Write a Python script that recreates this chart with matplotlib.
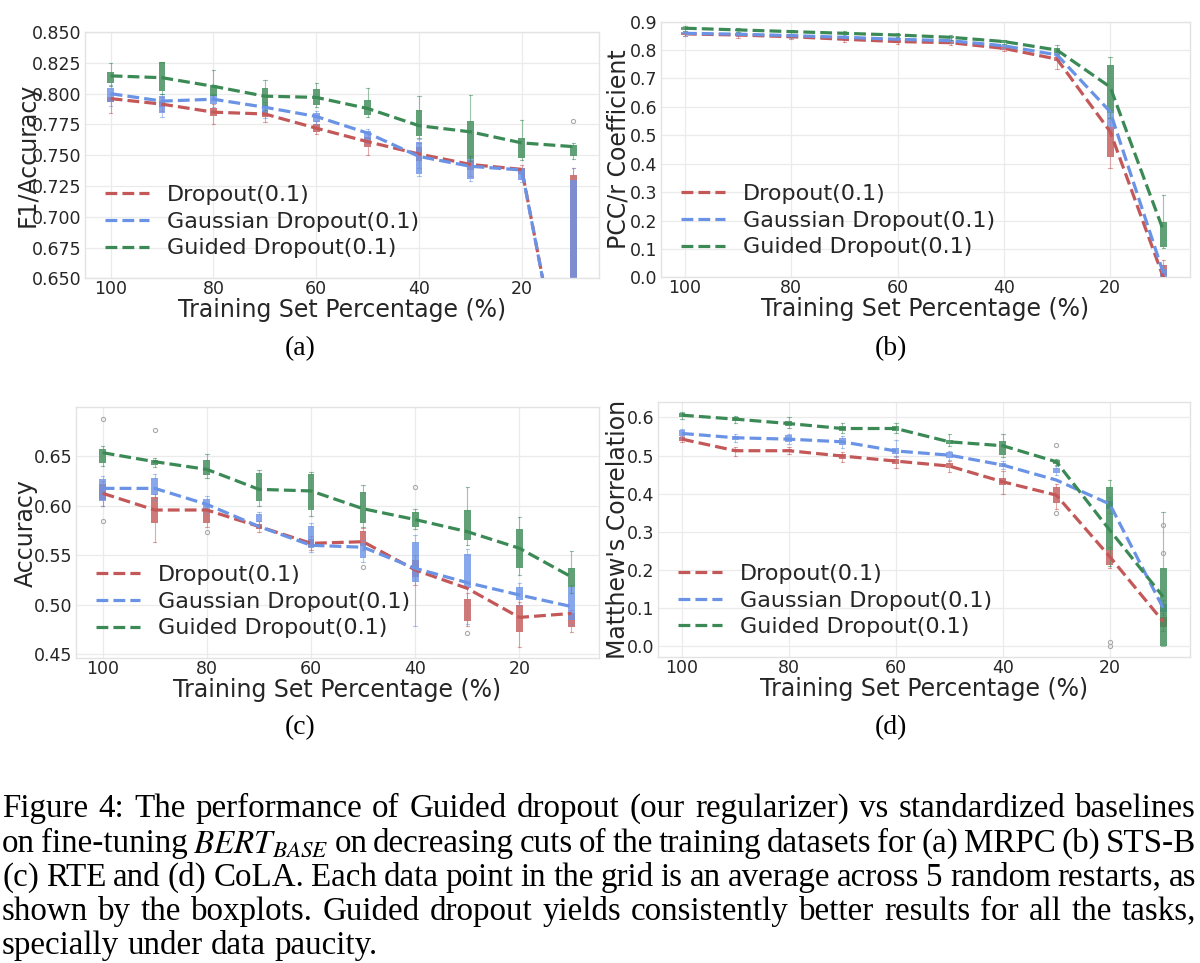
import matplotlib
matplotlib.use("Agg")
import matplotlib.pyplot as plt

plt.rcParams['font.family'] = ['DejaVu Sans']
plt.rcParams['mathtext.fontset'] = 'stix'

pct = [100, 90, 80, 70, 60, 50, 40, 30, 20, 10]
series_names = ["Dropout(0.1)", "Gaussian Dropout(0.1)", "Guided Dropout(0.1)"]
series_colors = ["#c45858", "#6a93e6", "#3b8a55"]

# (a) MRPC: mean, box (q1, q3), whiskers (lo, hi)
a_drop_mean = [0.796, 0.7915, 0.785, 0.7835, 0.772, 0.761, 0.751, 0.7425, 0.7385, 0.52]
a_drop_q1 = [0.7935, 0.789, 0.7815, 0.781, 0.769, 0.757, 0.745, 0.738, 0.735, 0.30]
a_drop_q3 = [0.7975, 0.794, 0.788, 0.786, 0.775, 0.765, 0.757, 0.746, 0.740, 0.734]
a_drop_lo = [0.784, 0.786, 0.775, 0.777, 0.767, 0.750, 0.740, 0.733, 0.731, 0.20]
a_drop_hi = [0.800, 0.797, 0.792, 0.790, 0.778, 0.768, 0.760, 0.749, 0.742, 0.740]
a_gauss_mean = [0.800, 0.794, 0.7955, 0.789, 0.7815, 0.768, 0.749, 0.741, 0.738, 0.52]
a_gauss_q1 = [0.793, 0.784, 0.792, 0.784, 0.777, 0.762, 0.735, 0.731, 0.730, 0.30]
a_gauss_q3 = [0.805, 0.798, 0.799, 0.791, 0.784, 0.770, 0.761, 0.747, 0.739, 0.730]
a_gauss_lo = [0.790, 0.781, 0.789, 0.780, 0.775, 0.760, 0.733, 0.729, 0.728, 0.20]
a_gauss_hi = [0.807, 0.800, 0.800, 0.793, 0.786, 0.771, 0.763, 0.749, 0.740, 0.740]
a_guided_mean = [0.8145, 0.813, 0.806, 0.798, 0.797, 0.788, 0.774, 0.769, 0.760, 0.757]
a_guided_q1 = [0.8085, 0.802, 0.798, 0.789, 0.791, 0.783, 0.766, 0.747, 0.748, 0.749]
a_guided_q3 = [0.818, 0.826, 0.807, 0.805, 0.804, 0.795, 0.787, 0.778, 0.764, 0.758]
a_guided_lo = [0.806, 0.800, 0.796, 0.787, 0.789, 0.781, 0.764, 0.745, 0.746, 0.747]
a_guided_hi = [0.825, 0.826, 0.819, 0.811, 0.809, 0.805, 0.798, 0.799, 0.779, 0.760]
a_guided_out = [(10, 0.778)]

# (b) STS-B
b_drop_mean = [0.857, 0.853, 0.847, 0.838, 0.830, 0.826, 0.806, 0.768, 0.513, 0.0]
b_drop_q1 = [0.853, 0.849, 0.843, 0.834, 0.826, 0.822, 0.800, 0.760, 0.425, -0.01]
b_drop_q3 = [0.860, 0.856, 0.850, 0.842, 0.834, 0.830, 0.810, 0.775, 0.530, 0.045]
b_drop_lo = [0.848, 0.843, 0.838, 0.830, 0.820, 0.818, 0.795, 0.735, 0.384, -0.02]
b_drop_hi = [0.863, 0.860, 0.853, 0.845, 0.838, 0.834, 0.814, 0.780, 0.560, 0.060]
b_gauss_mean = [0.859, 0.856, 0.851, 0.845, 0.838, 0.833, 0.815, 0.783, 0.583, 0.015]
b_gauss_q1 = [0.855, 0.852, 0.847, 0.841, 0.834, 0.829, 0.811, 0.778, 0.530, 0.0]
b_gauss_q3 = [0.862, 0.859, 0.855, 0.849, 0.842, 0.837, 0.819, 0.788, 0.577, 0.030]
b_gauss_lo = [0.851, 0.848, 0.843, 0.837, 0.830, 0.825, 0.806, 0.772, 0.520, -0.01]
b_gauss_hi = [0.866, 0.863, 0.858, 0.852, 0.846, 0.841, 0.823, 0.792, 0.590, 0.040]
b_guided_mean = [0.877, 0.871, 0.865, 0.859, 0.853, 0.845, 0.830, 0.800, 0.670, 0.165]
b_guided_q1 = [0.872, 0.867, 0.861, 0.855, 0.849, 0.841, 0.826, 0.790, 0.577, 0.108]
b_guided_q3 = [0.880, 0.875, 0.869, 0.863, 0.857, 0.849, 0.834, 0.808, 0.748, 0.196]
b_guided_lo = [0.868, 0.863, 0.857, 0.851, 0.845, 0.837, 0.822, 0.786, 0.560, 0.105]
b_guided_hi = [0.883, 0.878, 0.872, 0.866, 0.860, 0.852, 0.837, 0.818, 0.777, 0.290]

# (c) RTE
c_drop_mean = [0.6126, 0.5957, 0.5957, 0.579, 0.562, 0.5636, 0.535, 0.5164, 0.487, 0.491]
c_drop_q1 = [0.606, 0.583, 0.583, 0.576, 0.558, 0.559, 0.528, 0.4837, 0.4726, 0.477]
c_drop_q3 = [0.622, 0.6085, 0.597, 0.582, 0.566, 0.574, 0.545, 0.506, 0.4996, 0.491]
c_drop_lo = [0.600, 0.5636, 0.578, 0.573, 0.555, 0.555, 0.520, 0.478, 0.4574, 0.472]
c_drop_hi = [0.625, 0.612, 0.600, 0.585, 0.569, 0.577, 0.550, 0.512, 0.503, 0.494]
c_drop_out = [(100, 0.585), (80, 0.573), (50, 0.538), (30, 0.471)]
c_gauss_mean = [0.6176, 0.6176, 0.6014, 0.579, 0.560, 0.558, 0.5367, 0.5222, 0.5097, 0.498]
c_gauss_q1 = [0.605, 0.611, 0.597, 0.584, 0.557, 0.547, 0.5232, 0.517, 0.505, 0.4844]
c_gauss_q3 = [0.6267, 0.628, 0.6065, 0.592, 0.580, 0.562, 0.5636, 0.551, 0.518, 0.518]
c_gauss_lo = [0.600, 0.606, 0.593, 0.581, 0.553, 0.543, 0.478, 0.480, 0.500, 0.480]
c_gauss_hi = [0.630, 0.632, 0.610, 0.594, 0.583, 0.565, 0.570, 0.556, 0.522, 0.520]
c_gauss_out = [(60, 0.498)]
c_guided_mean = [0.6537, 0.6446, 0.6368, 0.6166, 0.615, 0.597, 0.586, 0.5738, 0.557, 0.528]
c_guided_q1 = [0.643, 0.641, 0.631, 0.605, 0.596, 0.583, 0.579, 0.565, 0.537, 0.518]
c_guided_q3 = [0.657, 0.646, 0.646, 0.633, 0.632, 0.6136, 0.594, 0.596, 0.576, 0.537]
c_guided_lo = [0.640, 0.639, 0.628, 0.600, 0.590, 0.578, 0.576, 0.560, 0.530, 0.512]
c_guided_hi = [0.660, 0.648, 0.652, 0.636, 0.634, 0.621, 0.597, 0.619, 0.589, 0.5545]
c_guided_out = [(100, 0.688), (90, 0.677), (40, 0.619)]

# (d) CoLA
d_drop_mean = [0.543, 0.5126, 0.5126, 0.4986, 0.4854, 0.4723, 0.431, 0.396, 0.2344, 0.0638]
d_drop_q1 = [0.538, 0.508, 0.508, 0.492, 0.478, 0.466, 0.422, 0.374, 0.2125, 0.050]
d_drop_q3 = [0.548, 0.518, 0.518, 0.505, 0.492, 0.480, 0.440, 0.418, 0.252, 0.075]
d_drop_lo = [0.535, 0.500, 0.503, 0.482, 0.468, 0.458, 0.400, 0.360, 0.205, 0.040]
d_drop_hi = [0.552, 0.522, 0.522, 0.510, 0.498, 0.485, 0.460, 0.425, 0.260, 0.085]
d_drop_out = [(30, 0.348)]
d_gauss_mean = [0.558, 0.5467, 0.543, 0.536, 0.512, 0.501, 0.475, 0.4356, 0.3726, 0.099]
d_gauss_q1 = [0.550, 0.541, 0.535, 0.527, 0.503, 0.493, 0.470, 0.455, 0.360, 0.090]
d_gauss_q3 = [0.566, 0.551, 0.553, 0.545, 0.521, 0.509, 0.480, 0.468, 0.380, 0.110]
d_gauss_lo = [0.545, 0.536, 0.530, 0.520, 0.497, 0.487, 0.465, 0.450, 0.350, 0.080]
d_gauss_hi = [0.570, 0.556, 0.557, 0.550, 0.540, 0.513, 0.485, 0.472, 0.390, 0.120]
d_guided_mean = [0.606, 0.5956, 0.584, 0.571, 0.571, 0.536, 0.5257, 0.4837, 0.304, 0.129]
d_guided_q1 = [0.600, 0.590, 0.578, 0.565, 0.565, 0.530, 0.501, 0.478, 0.252, 0.0]
d_guided_q3 = [0.612, 0.600, 0.590, 0.577, 0.577, 0.542, 0.538, 0.488, 0.418, 0.204]
d_guided_lo = [0.596, 0.585, 0.572, 0.558, 0.560, 0.525, 0.496, 0.474, 0.210, 0.0]
d_guided_hi = [0.615, 0.603, 0.602, 0.585, 0.585, 0.556, 0.556, 0.491, 0.435, 0.352]
d_guided_out = [(30, 0.527), (20, 0.011), (20, 0.0), (10, 0.317), (10, 0.245)]

panel_labels = ["(a)", "(b)", "(c)", "(d)"]
y_labels = ["F1/Accuracy", "PCC/r Coefficient", "Accuracy", "Matthew's Correlation"]
a_yticks = [0.650, 0.675, 0.700, 0.725, 0.750, 0.775, 0.800, 0.825, 0.850]
b_yticks = [0.0, 0.1, 0.2, 0.3, 0.4, 0.5, 0.6, 0.7, 0.8, 0.9]
c_yticks = [0.45, 0.50, 0.55, 0.60, 0.65]
d_yticks = [0.0, 0.1, 0.2, 0.3, 0.4, 0.5, 0.6]
x_ticks = [100, 80, 60, 40, 20]

caption_lines = [
    "Figure 4: The performance of Guided dropout (our regularizer) vs standardized baselines",
    "on fine-tuning $BERT_{BASE}$ on decreasing cuts of the training datasets for (a) MRPC (b) STS-B",
    "(c) RTE and (d) CoLA. Each data point in the grid is an average across 5 random restarts, as",
    "shown by the boxplots. Guided dropout yields consistently better results for all the tasks,",
    "specially under data paucity.",
]

panels = [
    dict(rect=[0.0708, 0.7110, 0.4283, 0.2556], ylim=(0.65, 0.85), xlim=(105, 5),
         yticks=a_yticks, fmt="{:.3f}", ylab_x=-0.088,
         series=[(a_drop_mean, a_drop_q1, a_drop_q3, a_drop_lo, a_drop_hi, []),
                 (a_gauss_mean, a_gauss_q1, a_gauss_q3, a_gauss_lo, a_gauss_hi, []),
                 (a_guided_mean, a_guided_q1, a_guided_q3, a_guided_lo, a_guided_hi, a_guided_out)]),
    dict(rect=[0.5508, 0.7120, 0.4408, 0.2655], ylim=(0.0, 0.9), xlim=(104.5, 5),
         yticks=b_yticks, fmt="{:.1f}", ylab_x=-0.058,
         series=[(b_drop_mean, b_drop_q1, b_drop_q3, b_drop_lo, b_drop_hi, []),
                 (b_gauss_mean, b_gauss_q1, b_gauss_q3, b_gauss_lo, b_gauss_hi, []),
                 (b_guided_mean, b_guided_q1, b_guided_q3, b_guided_lo, b_guided_hi, [])]),
    dict(rect=[0.0630, 0.3164, 0.4362, 0.2606], ylim=(0.4456, 0.6996), xlim=(105.2, 4.7),
         yticks=c_yticks, fmt="{:.2f}", ylab_x=-0.072,
         series=[(c_drop_mean, c_drop_q1, c_drop_q3, c_drop_lo, c_drop_hi, c_drop_out),
                 (c_gauss_mean, c_gauss_q1, c_gauss_q3, c_gauss_lo, c_gauss_hi, c_gauss_out),
                 (c_guided_mean, c_guided_q1, c_guided_q3, c_guided_lo, c_guided_hi, c_guided_out)]),
    dict(rect=[0.5483, 0.3175, 0.4433, 0.2648], ylim=(-0.03, 0.64), xlim=(104.5, 5),
         yticks=d_yticks, fmt="{:.1f}", ylab_x=-0.052,
         series=[(d_drop_mean, d_drop_q1, d_drop_q3, d_drop_lo, d_drop_hi, d_drop_out),
                 (d_gauss_mean, d_gauss_q1, d_gauss_q3, d_gauss_lo, d_gauss_hi, []),
                 (d_guided_mean, d_guided_q1, d_guided_q3, d_guided_lo, d_guided_hi, d_guided_out)]),
]
label_pos = [(300, 349), (891, 349), (300, 728), (891, 728)]

W, H = 1200, 963
fig = plt.figure(figsize=(W / 100, H / 100), dpi=100)
text_col = "#262626"

for p, plab, ylab, (lx, ly) in zip(panels, panel_labels, y_labels, label_pos):
    ax = fig.add_axes(p["rect"])
    ax.set_facecolor("white")
    for s in ax.spines.values():
        s.set_color("#e3e3e3")
        s.set_linewidth(1.0)
    ax.grid(True, color="#ebebeb", linewidth=0.9)
    ax.set_axisbelow(True)

    for (mean, q1, q3, lo, hi, out), col, name in zip(p["series"], series_colors, series_names):
        stats = []
        for i, x in enumerate(pct):
            stats.append(dict(med=mean[i], q1=q1[i], q3=q3[i], whislo=lo[i], whishi=hi[i],
                              fliers=[v for (xx, v) in out if xx == x]))
        ax.bxp(stats, positions=pct, widths=1.3, patch_artist=True, manage_ticks=False,
               boxprops=dict(facecolor=col, edgecolor="none", alpha=0.8),
               whiskerprops=dict(color=col, linewidth=0.8, alpha=0.5),
               capprops=dict(color=col, linewidth=0.8, alpha=0.5),
               medianprops=dict(linewidth=0),
               flierprops=dict(marker="o", markersize=3, markerfacecolor="none",
                               markeredgecolor="#aaaaaa", markeredgewidth=0.8))
        ax.plot(pct, mean, linestyle="--", color=col, linewidth=2.3, label=name, zorder=5)

    ax.set_xlim(*p["xlim"])
    ax.set_ylim(*p["ylim"])
    ax.set_xticks(x_ticks)
    ax.set_xticklabels([str(t) for t in x_ticks])
    ax.set_yticks(p["yticks"])
    ax.set_yticklabels([p["fmt"].format(t) for t in p["yticks"]])
    ax.tick_params(length=0, labelsize=12.5, labelcolor=text_col, pad=2.5)
    ax.tick_params(axis="x", pad=1.2)

    ax.set_xlabel("Training Set Percentage (%)", fontsize=17, color=text_col)
    ax.xaxis.set_label_coords(0.5, -0.078)
    ax.set_ylabel(ylab, fontsize=17, color=text_col)
    ax.yaxis.set_label_coords(p["ylab_x"], 0.5)

    ax.legend(loc="lower left", frameon=False, fontsize=16, handlelength=2.0,
              handletextpad=0.8, labelspacing=0.3, labelcolor=text_col)

    fig.text(lx / W, 1 - ly / H, plab, fontsize=20, family="Liberation Serif",
             ha="center", va="center", color="black")

# caption, justified line by line
fig.canvas.draw()
renderer = fig.canvas.get_renderer()
x0, x1 = 2, 1196
probe = fig.text(0, 0, caption_lines[0], fontsize=20, family="Liberation Serif")
natural = probe.get_window_extent(renderer).width
probe.remove()
cap_size = 20 * (x1 - x0) * 0.985 / natural
baselines = [817, 852, 886, 920, 954]
for k, (line, yb) in enumerate(zip(caption_lines, baselines)):
    words = line.split(" ")
    texts = [fig.text(0, 1 - yb / H, w, fontsize=cap_size, family="Liberation Serif",
                      va="baseline", ha="left", color="black") for w in words]
    widths = [t.get_window_extent(renderer).width for t in texts]
    if k < len(caption_lines) - 1:
        gap = (x1 - x0 - sum(widths)) / (len(words) - 1)
    else:
        gap = cap_size * 0.25 * 100 / 72
    x = x0
    for t, w in zip(texts, widths):
        t.set_x(x / W)
        x += w + gap

fig.savefig("out.png", dpi=100, facecolor="white")
